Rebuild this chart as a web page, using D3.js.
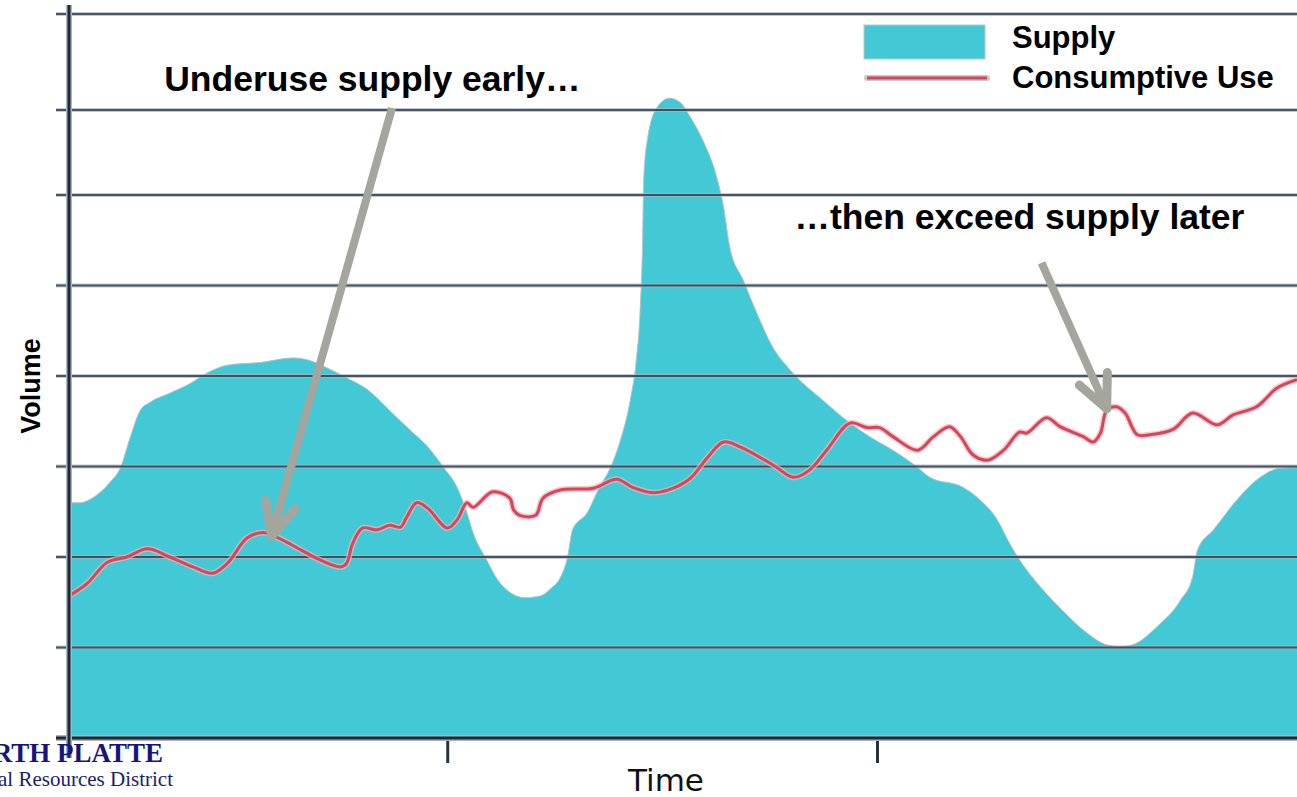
<!DOCTYPE html>
<html>
<head>
<meta charset="utf-8">
<script src="https://d3js.org/d3.v7.min.js"></script>
<style>
body, html {
    margin: 0;
    padding: 0;
    background: #fff;
}
.lbl {
  font-family: "Liberation Sans", Arial, sans-serif;
  font-weight: bold;
  fill: #000;
}
</style>
</head>
<body>
<div id="chart"></div>
<script>

// supply curve (time in % of period, volume in grid units)
var supplyT = [0, 0.9, 2.0, 3.3, 4.2, 5.0, 5.8, 6.6, 8.2, 9.9, 11.2, 12.9, 15.6, 18.2, 19.4, 21.0, 22.6, 24.3, 26.1, 27.8,
  29.2, 30.5, 31.6, 32.4, 32.9, 34.0, 34.9, 35.9, 37.1, 38.4, 39.3, 40.0, 40.6, 41.0, 42.2, 43.2, 44.1, 44.9, 45.7, 46.2,
  46.5, 46.7, 46.8, 47.1, 47.9, 48.9, 49.8, 50.6, 51.6, 52.8, 53.3, 53.8, 54.9, 56.0, 57.3, 58.7, 61.4, 63.6, 65.2, 67.1,
  69.1, 70.1, 72.8, 74.2, 75.6, 76.6, 77.4, 79.1, 80.9, 82.9, 84.5, 85.6, 86.6, 88.6, 90.5, 91.5, 91.9, 93.2, 95.1, 96.7,
  98.6, 100];
var supplyV = [2.60, 2.60, 2.66, 2.82, 2.99, 3.33, 3.62, 3.71, 3.81, 3.92, 4.03, 4.12, 4.15, 4.20, 4.18, 4.09, 3.98, 3.85, 3.62, 3.40,
  3.22, 2.99, 2.77, 2.49, 2.27, 1.97, 1.75, 1.61, 1.55, 1.57, 1.66, 1.77, 2.00, 2.30, 2.49, 2.77, 2.99, 3.29, 3.73, 4.18,
  4.70, 5.43, 6.17, 6.61, 6.97, 7.07, 7.02, 6.86, 6.61, 6.17, 5.87, 5.43, 5.06, 4.70, 4.32, 4.07, 3.73, 3.48, 3.33, 3.18,
  2.99, 2.88, 2.77, 2.63, 2.41, 2.15, 1.97, 1.67, 1.41, 1.16, 1.03, 1.01, 1.03, 1.23, 1.52, 1.78, 2.08, 2.30, 2.63, 2.85,
  2.98, 2.99];

// consumptive use curve
var useT = [0, 1.5, 3.1, 4.7, 6.4, 8.2, 10.1, 11.7, 12.9, 14.5, 15.8, 16.6, 18.2, 20.4, 22.1, 22.6, 23.1, 23.9, 25.1, 26.1,
  27.0, 27.5, 28.3, 29.2, 30.8, 31.6, 32.4, 32.9, 34.5, 35.9, 36.2, 36.7, 38.0, 38.6, 40.0, 42.7, 44.6, 45.9, 47.6, 49.2,
  50.6, 52.0, 53.3, 54.6, 57.3, 59.0, 60.3, 61.7, 63.6, 65.0, 66.0, 67.1, 69.1, 70.4, 71.7, 72.6, 73.6, 74.8, 76.1, 77.4,
  78.0, 79.6, 80.7, 82.6, 83.4, 84.0, 84.5, 85.3, 86.0, 87.0, 88.0, 89.9, 91.5, 93.5, 94.8, 96.7, 98.4, 100];
var useV = [1.57, 1.71, 1.94, 2.00, 2.09, 2.00, 1.89, 1.82, 1.93, 2.21, 2.27, 2.24, 2.13, 1.97, 1.89, 1.93, 2.15, 2.32, 2.30, 2.35,
  2.33, 2.44, 2.60, 2.54, 2.32, 2.41, 2.60, 2.55, 2.72, 2.65, 2.52, 2.46, 2.46, 2.65, 2.74, 2.76, 2.86, 2.77, 2.71, 2.76,
  2.87, 3.10, 3.27, 3.22, 3.02, 2.88, 2.96, 3.18, 3.48, 3.43, 3.43, 3.33, 3.18, 3.33, 3.44, 3.33, 3.13, 3.07, 3.18, 3.38,
  3.37, 3.54, 3.44, 3.33, 3.27, 3.37, 3.62, 3.66, 3.59, 3.35, 3.35, 3.41, 3.59, 3.46, 3.57, 3.66, 3.87, 3.96];

var gridValues = [0, 1, 2, 3, 4, 5, 6, 6.94, 8];
var xTicks = [30.8, 65.8];
var seriesNames = ["Supply", "Consumptive Use"];

// annotations: label position, arrow tail and tip in data units
var notes = [
  {text: "Underuse supply early\u2026", t: 24.7, v: 7.15, tail: [26.3, 6.96], tip: [16.5, 2.23]},
  {text: "\u2026then exceed supply later", t: 77.4, v: 5.62, tail: [79.2, 5.25], tip: [84.5, 3.64]}
];

var width = 1297, height = 797;

var svg = d3.select('#chart').append('svg')
  .attr('width', width)
  .attr('height', height);

var x = d3.scaleLinear().domain([0, 100]).range([69, 1297]);
var y = d3.scaleLinear().domain([0, 8]).range([738, 14]);

var supply = supplyT.map(function (t, i) { return [t, supplyV[i]]; });
var use = useT.map(function (t, i) { return [t, useV[i]]; });

// supply area
var area = d3.area()
  .x(function (d) { return x(d[0]); })
  .y0(y(0))
  .y1(function (d) { return y(d[1]); })
  .curve(d3.curveMonotoneX);

svg.append('path')
  .datum(supply)
  .attr('fill', '#43c9d6')
  .attr('d', area);

svg.append('path')
  .datum(supply)
  .attr('fill', 'none')
  .attr('stroke', '#b7c3c6')
  .attr('stroke-width', 1)
  .attr('d', area.lineY1());

// grid lines (halo + core)
svg.append('g').selectAll('line')
  .data(gridValues.slice(1))
  .join('line')
  .attr('x1', x(0) - 13).attr('x2', width)
  .attr('y1', function (d) { return y(d); })
  .attr('y2', function (d) { return y(d); })
  .attr('stroke', '#a9b5c2')
  .attr('stroke-opacity', 0.7)
  .attr('stroke-width', 4);

svg.append('g').selectAll('line')
  .data(gridValues.slice(1))
  .join('line')
  .attr('x1', x(0) - 13).attr('x2', width)
  .attr('y1', function (d) { return y(d); })
  .attr('y2', function (d) { return y(d); })
  .attr('stroke', '#2c3742')
  .attr('stroke-opacity', 0.8)
  .attr('stroke-width', 2);

// consumptive use line
var line = d3.line()
  .x(function (d) { return x(d[0]); })
  .y(function (d) { return y(d[1]); })
  .curve(d3.curveCatmullRom.alpha(0.5));

svg.append('path')
  .datum(use)
  .attr('fill', 'none')
  .attr('stroke', '#efb3bb')
  .attr('stroke-width', 6)
  .attr('stroke-opacity', 0.7)
  .attr('d', line);

svg.append('path')
  .datum(use)
  .attr('fill', 'none')
  .attr('stroke', '#d6465a')
  .attr('stroke-width', 3)
  .attr('d', line);

// axes
var xAxis = svg.append('g')
  .attr('transform', 'translate(0,' + y(0) + ')')
  .call(d3.axisBottom(x).tickValues(xTicks).tickSize(25).tickSizeOuter(0).tickFormat(''));
xAxis.select('.domain').remove();
xAxis.selectAll('.tick line')
  .attr('stroke', '#27323d')
  .attr('stroke-width', 3);

svg.append('line')
  .attr('x1', x(0) - 13).attr('x2', width)
  .attr('y1', y(0)).attr('y2', y(0))
  .attr('stroke', '#a9b5c2').attr('stroke-width', 6);
svg.append('line')
  .attr('x1', x(0) - 13).attr('x2', width)
  .attr('y1', y(0)).attr('y2', y(0))
  .attr('stroke', '#1f2a33').attr('stroke-width', 3);

svg.append('line')
  .attr('x1', x(0)).attr('x2', x(0))
  .attr('y1', 5).attr('y2', y(0) + 20)
  .attr('stroke', '#a9b5c2').attr('stroke-width', 6);
svg.append('line')
  .attr('x1', x(0)).attr('x2', x(0))
  .attr('y1', 5).attr('y2', y(0) + 20)
  .attr('stroke', '#1f2a33').attr('stroke-width', 3);

// axis titles
svg.append('text')
  .attr('class', 'lbl')
  .attr('transform', 'translate(40,' + (y(4) + 10) + ') rotate(-90)')
  .attr('text-anchor', 'middle')
  .style('font-size', '27px')
  .text('Volume');

svg.append('text')
  .attr('x', 666).attr('y', 791)
  .attr('text-anchor', 'middle')
  .style('font-family', '"DejaVu Sans", Verdana, sans-serif')
  .style('font-size', '31px')
  .attr('fill', '#111')
  .text('Time');

// annotations with arrows
var arrowCol = '#a4a69d';
notes.forEach(function (n) {
  svg.append('text')
    .attr('class', 'lbl')
    .attr('x', x(n.t)).attr('y', y(n.v))
    .attr('text-anchor', 'middle')
    .style('font-size', '35.5px')
    .text(n.text);

  var tx = x(n.tip[0]), ty = y(n.tip[1]);
  var sx = x(n.tail[0]), sy = y(n.tail[1]);
  svg.append('line')
    .attr('x1', sx).attr('y1', sy).attr('x2', tx).attr('y2', ty)
    .attr('stroke', arrowCol).attr('stroke-width', 8);
  var ang = Math.atan2(sy - ty, sx - tx);
  [-0.44, 0.44].forEach(function (da) {
    svg.append('line')
      .attr('x1', tx).attr('y1', ty)
      .attr('x2', tx + 36 * Math.cos(ang + da))
      .attr('y2', ty + 36 * Math.sin(ang + da))
      .attr('stroke', arrowCol).attr('stroke-width', 9)
      .attr('stroke-linecap', 'round');
  });
});

// legend
var lg = svg.append('g').attr('transform', 'translate(864,25)');
lg.append('rect')
  .attr('width', 121).attr('height', 34)
  .attr('fill', '#43c9d6')
  .attr('stroke', '#b4c9cc').attr('stroke-width', 1);
lg.append('line')
  .attr('x1', 3).attr('x2', 123).attr('y1', 53).attr('y2', 53)
  .attr('stroke', '#c9c9c9').attr('stroke-width', 6).attr('stroke-linecap', 'round');
lg.append('line')
  .attr('x1', 3).attr('x2', 123).attr('y1', 53).attr('y2', 53)
  .attr('stroke', '#d6465a').attr('stroke-width', 3);
lg.selectAll('text')
  .data(seriesNames)
  .join('text')
  .attr('class', 'lbl')
  .attr('x', 148)
  .attr('y', function (d, i) { return 23 + i * 40; })
  .style('font-size', '31px')
  .text(function (d) { return d; });

// logo fragment, bottom left
svg.append('text')
  .attr('x', 163).attr('y', 762)
  .attr('text-anchor', 'end')
  .style('font-family', '"Liberation Serif", "Times New Roman", serif')
  .style('font-weight', 'bold')
  .style('font-size', '27px')
  .attr('fill', '#15157a')
  .text('NORTH PLATTE');
svg.append('text')
  .attr('x', 173).attr('y', 786)
  .attr('text-anchor', 'end')
  .style('font-family', '"Liberation Serif", "Times New Roman", serif')
  .style('font-size', '21px')
  .attr('fill', '#1c1c6e')
  .text('Natural Resources District');

</script>
</body>
</html>
